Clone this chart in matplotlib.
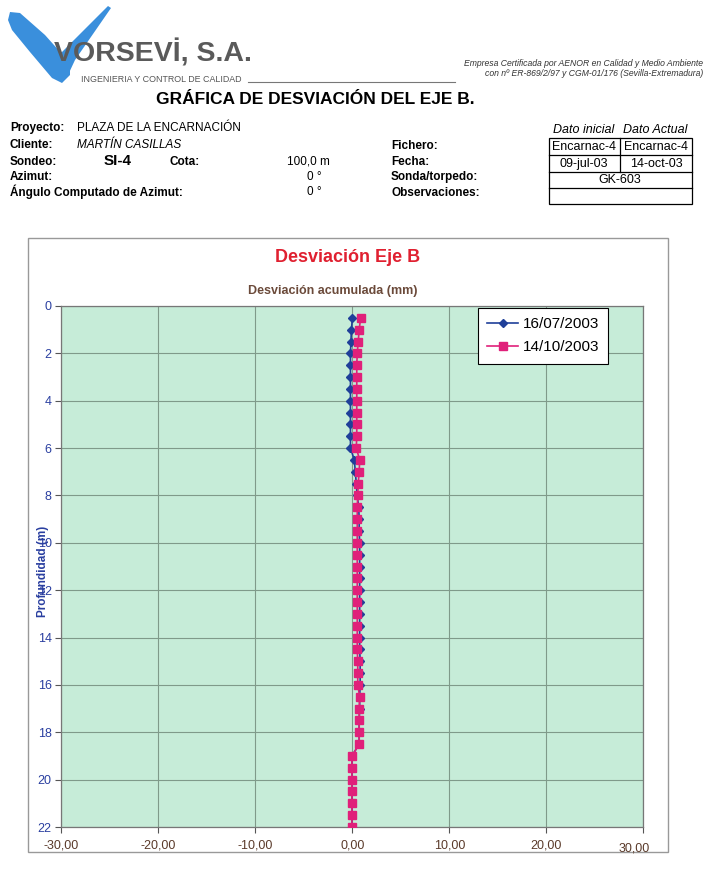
import matplotlib.pyplot as plt
from matplotlib.patches import Polygon, Rectangle
from matplotlib.lines import Line2D
from matplotlib.ticker import FuncFormatter
from matplotlib.transforms import ScaledTranslation

plt.rcParams['font.family'] = ['Liberation Sans', 'DejaVu Sans']

# Profundidad (m) de cada lectura
profundidad = [0.5, 1.0, 1.5, 2.0, 2.5, 3.0, 3.5, 4.0, 4.5, 5.0, 5.5, 6.0,
               6.5, 7.0, 7.5, 8.0, 8.5, 9.0, 9.5, 10.0, 10.5, 11.0, 11.5, 12.0,
               12.5, 13.0, 13.5, 14.0, 14.5, 15.0, 15.5, 16.0, 16.5, 17.0, 17.5, 18.0,
               18.5, 19.0, 19.5, 20.0, 20.5, 21.0, 21.5, 22.0]

# Desviación acumulada (mm) - lectura inicial 16/07/2003
desv_jul = [0.00, -0.10, -0.15, -0.20, -0.20, -0.20, -0.20, -0.20, -0.20, -0.20, -0.20, -0.20,
            0.20, 0.30, 0.40, 0.50, 0.65, 0.70, 0.70, 0.75, 0.75, 0.75, 0.75, 0.75,
            0.75, 0.75, 0.75, 0.75, 0.75, 0.80, 0.80, 0.80, 0.75, 0.75, 0.70, 0.70,
            0.70, -0.05, -0.05, -0.05, -0.05, -0.05, -0.05, -0.05]

# Desviación acumulada (mm) - lectura actual 14/10/2003
desv_oct = [0.85, 0.70, 0.60, 0.50, 0.45, 0.45, 0.45, 0.45, 0.45, 0.45, 0.45, 0.40,
            0.75, 0.70, 0.60, 0.55, 0.50, 0.50, 0.50, 0.50, 0.50, 0.50, 0.50, 0.50,
            0.50, 0.50, 0.50, 0.50, 0.50, 0.55, 0.55, 0.55, 0.75, 0.70, 0.70, 0.70,
            0.70, -0.05, -0.05, -0.05, -0.05, -0.05, -0.05, -0.05]

fechas = ['16/07/2003', '14/10/2003']
ticks_x = [-30, -20, -10, 0, 10, 20, 30]
ticks_y = [0, 2, 4, 6, 8, 10, 12, 14, 16, 18, 20, 22]

W, H = 709, 871
fig = plt.figure(figsize=(W / 100, H / 100), dpi=100)


def px(x, y):
    return x / W, 1 - y / H


def txt(x, y, s, **kw):
    kw.setdefault('fontsize', 8.5)
    kw.setdefault('va', 'center')
    fig.text(*px(x, y), s, **kw)


def linea(xs, ys, **kw):
    fig.lines.append(Line2D([x / W for x in xs], [1 - y / H for y in ys],
                            transform=fig.transFigure, **kw))


# ---- cabecera / logo ----
v_izq = [(10, 12), (20, 13), (45, 35), (70, 63), (70, 75), (62, 83), (52, 78), (30, 52), (12, 30), (8, 20)]
v_der = [(52, 62), (108, 6), (111, 8), (75, 60), (68, 75), (58, 78)]
for pts in (v_izq, v_der):
    fig.patches.append(Polygon([px(*p) for p in pts], closed=True, transform=fig.transFigure,
                               facecolor='#3a8fdc', edgecolor='none', zorder=1))
txt(54, 53, 'VORSEVİ, S.A.', fontsize=20.5, weight='bold', color='#5a5a5a', zorder=3)
txt(81, 79, 'INGENIERIA Y CONTROL DE CALIDAD', fontsize=6.4, color='#555555')
linea([248, 455], [82, 82], color='#777777', lw=0.8)
txt(703, 63, 'Empresa Certificada por AENOR en Calidad y Medio Ambiente', fontsize=6.2,
    style='italic', ha='right', color='#333333')
txt(703, 74, 'con nº ER-869/2/97 y CGM-01/176 (Sevilla-Extremadura)', fontsize=6.2,
    style='italic', ha='right', color='#333333')
txt(315, 100, 'GRÁFICA DE DESVIACIÓN DEL EJE B.', fontsize=12.5, weight='bold', ha='center')

# ---- datos del sondeo ----
txt(10, 128, 'Proyecto:', weight='bold')
txt(77, 128, 'PLAZA DE LA ENCARNACIÓN')
txt(10, 145, 'Cliente:', weight='bold')
txt(77, 145, 'MARTÍN CASILLAS', style='italic')
txt(10, 162, 'Sondeo:', weight='bold')
txt(118, 161, 'SI-4', fontsize=11, weight='bold', ha='center')
txt(170, 162, 'Cota:', weight='bold')
txt(330, 162, '100,0 m', ha='right')
txt(10, 177, 'Azimut:', weight='bold')
txt(322, 177, '0 °', ha='right')
txt(10, 192, 'Ángulo Computado de Azimut:', weight='bold')
txt(322, 192, '0 °', ha='right')
for yy, s in zip([146, 162, 177, 193], ['Fichero:', 'Fecha:', 'Sonda/torpedo:', 'Observaciones:']):
    txt(391, yy, s, weight='bold')

txt(584, 130, 'Dato inicial', style='italic', ha='center', fontsize=9)
txt(655, 130, 'Dato Actual', style='italic', ha='center', fontsize=9)
fig.patches.append(Rectangle(px(549, 204), 143 / W, 66 / H, transform=fig.transFigure,
                             facecolor='none', edgecolor='black', lw=0.9))
for yy in [155, 172, 188]:
    linea([549, 692], [yy, yy], color='black', lw=0.9)
linea([620, 620], [138, 172], color='black', lw=0.9)
txt(584, 147, 'Encarnac-4', ha='center', fontsize=9)
txt(656, 147, 'Encarnac-4', ha='center', fontsize=9)
txt(584, 164, '09-jul-03', ha='center', fontsize=9)
txt(656, 164, '14-oct-03', ha='center', fontsize=9)
txt(620, 180, 'GK-603', ha='center', fontsize=9)

# ---- marco del gráfico ----
fig.patches.append(Rectangle(px(28, 852), 640 / W, 614 / H, transform=fig.transFigure,
                             facecolor='white', edgecolor='#999999', lw=1.0, zorder=-1))
txt(348, 258, 'Desviación Eje B', fontsize=13, weight='bold', color='#e02030', ha='center')
txt(333, 291, 'Desviación acumulada (mm)', fontsize=9, weight='bold', color='#6b4a3a', ha='center')

ax = fig.add_axes([61.4 / W, 1 - 827 / H, 582 / W, 521 / H])
ax.set_zorder(2)
ax.set_facecolor('#c6ecd8')
ax.plot(desv_jul, profundidad, color='#1f3f99', lw=1.2, marker='D', markersize=4.3,
        markerfacecolor='#1f3f99', markeredgecolor='#1f3f99', label=fechas[0], zorder=3)
ax.plot(desv_oct, profundidad, color='#e0207a', lw=1.2, marker='s', markersize=5.5,
        markerfacecolor='#e0207a', markeredgecolor='#e0207a', label=fechas[1], zorder=4)

ax.set_xlim(-30, 30)
ax.set_ylim(22, 0)
ax.set_xticks(ticks_x)
ax.set_yticks(ticks_y)
ax.xaxis.set_major_formatter(FuncFormatter(lambda v, p: f'{v:.2f}'.replace('.', ',')))
ax.grid(True, color='#7f9a8a', lw=0.8)
ax.set_axisbelow(True)
ax.tick_params(axis='y', colors='#555555', labelcolor='#2a3fa0', labelsize=9, length=4, pad=3)
ax.tick_params(axis='x', colors='#555555', labelcolor='#5a3a2a', labelsize=9, length=4, pad=5)
for sp in ax.spines.values():
    sp.set_color('#777777')
    sp.set_linewidth(0.9)

# la última etiqueta del eje X aparece algo desplazada en el original
ultima = ax.get_xticklabels()[-1]
ultima.set_transform(ultima.get_transform() + ScaledTranslation(-0.09, -0.03, fig.dpi_scale_trans))

ax.set_ylabel('Profundidad (m)', fontsize=8.5, weight='bold', color='#2a3fa0')
ax.yaxis.set_label_coords(-0.022, 0.49)

leg = ax.legend(loc='upper left', bbox_to_anchor=(0.716, 0.996), fontsize=11, frameon=True,
                fancybox=False, framealpha=1, edgecolor='black', handlelength=2.0,
                borderpad=0.6, labelspacing=0.6, handletextpad=0.3, borderaxespad=0)
leg.get_frame().set_linewidth(0.8)

fig.savefig('out.png', dpi=100)
